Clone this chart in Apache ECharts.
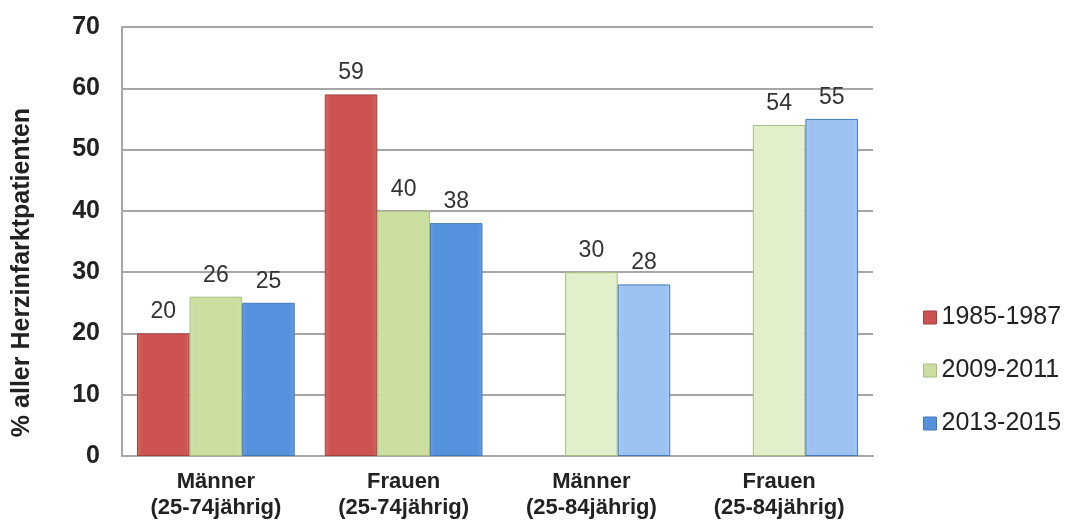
<!DOCTYPE html>
<html>
<head>
<meta charset="utf-8">
<script src="https://cdn.jsdelivr.net/npm/echarts@6/dist/echarts.min.js"></script>
<style>
  html, body { margin: 0; padding: 0; background: #fff; }
  #chart { width: 1066px; height: 523px; }
</style>
</head>
<body>
<div id="chart"></div>
<script>
// categories and values
const categories = ['Männer\n(25-74jährig)', 'Frauen\n(25-74jährig)', 'Männer\n(25-84jährig)', 'Frauen\n(25-84jährig)'];
const seriesNames = ['1985-1987', '2009-2011', '2013-2015'];
const values8587 = [20, 59, null, null];
const values0911 = [26, 40, 30, 54];
const values1315 = [25, 38, 28, 55];
const yTicks = [0, 10, 20, 30, 40, 50, 60, 70];

// first two groups use the darker palette, the last two a lighter one
const baseColors = ['#cc5350', '#cbde9f', '#5592de'];
const lightColors = ['#e08a88', '#e1efcb', '#9cc2f1'];
const borderColors = ['#a84240', '#a9bd80', '#4479bb'];

const bevel = (c) => ({
    type: 'linear', x: 0, y: 0, x2: 1, y2: 0,
    colorStops: [
        { offset: 0, color: echarts.color.lift(c, 0.12) },
        { offset: 0.1, color: c },
        { offset: 0.9, color: c },
        { offset: 1, color: echarts.color.lift(c, 0.12) },
    ],
});

const buildData = (vals, idx) => vals.map((v, i) => ({
    value: v,
    itemStyle: {
        color: bevel(i < 2 ? baseColors[idx] : lightColors[idx]),
        borderColor: borderColors[idx],
        borderWidth: 1,
    },
}));

const allValues = [values8587, values0911, values1315];

const chart = echarts.init(document.getElementById('chart'));

chart.setOption({
    backgroundColor: '#fff',
    animation: false,
    grid: { left: 122, right: 193, top: 27, bottom: 67, outerBoundsMode: 'none', containLabel: false },
    legend: {
        orient: 'vertical',
        left: 918,
        top: 300,
        itemWidth: 13,
        itemHeight: 13,
        itemGap: 28,
        icon: 'rect',
        textStyle: { fontFamily: 'Liberation Sans, Arial', fontSize: 25, color: '#222' },
        data: seriesNames.map((n, i) => ({ name: n, itemStyle: { color: baseColors[i], borderColor: borderColors[i], borderWidth: 1 } })),
    },
    xAxis: {
        type: 'category',
        data: categories,
        axisLine: { lineStyle: { color: '#a6a6a6', width: 2 } },
        axisTick: { show: false },
        axisLabel: {
            color: '#222',
            fontFamily: 'Liberation Sans, Arial',
            fontWeight: 'bold',
            fontSize: 22,
            lineHeight: 26,
            margin: 13,
        },
    },
    yAxis: {
        type: 'value',
        min: yTicks[0],
        max: yTicks[yTicks.length - 1],
        interval: 10,
        name: '% aller Herzinfarktpatienten',
        nameLocation: 'middle',
        nameGap: 87,
        nameTextStyle: {
            fontFamily: 'Liberation Sans, Arial',
            fontWeight: 'bold',
            fontSize: 25,
            color: '#222',
            padding: [0, 62, 0, 0],
        },
        axisLine: { show: true, lineStyle: { color: '#a6a6a6', width: 2 } },
        axisTick: { show: false },
        axisLabel: {
            color: '#222',
            fontFamily: 'Liberation Sans, Arial',
            fontWeight: 'bold',
            fontSize: 25,
            margin: 22,
        },
        splitLine: { lineStyle: { color: '#a6a6a6', width: 2 } },
    },
    series: seriesNames.map((name, idx) => ({
        name,
        type: 'bar',
        barGap: '0%',
        barCategoryGap: '16%',
        data: buildData(allValues[idx], idx),
        label: {
            show: true,
            position: 'top',
            distance: 10,
            color: '#333',
            fontFamily: 'Liberation Sans, Arial',
            fontSize: 23,
        },
    })),
});
</script>
</body>
</html>
